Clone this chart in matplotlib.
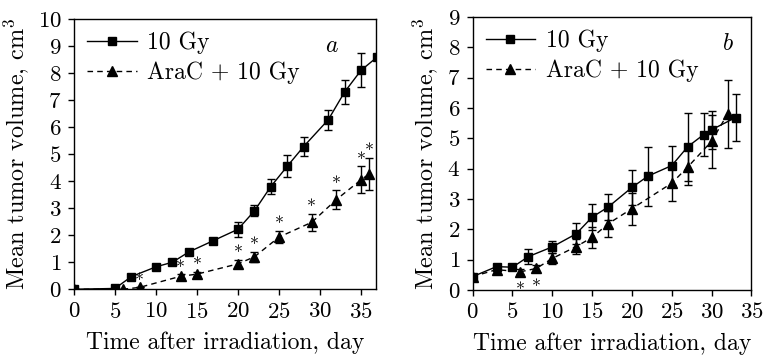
import matplotlib
matplotlib.use("Agg")
import matplotlib.pyplot as plt
from matplotlib.lines import Line2D

plt.rcParams['font.family'] = 'serif'
plt.rcParams['font.serif'] = ['cmr10', 'DejaVu Serif']
plt.rcParams['mathtext.fontset'] = 'cm'
plt.rcParams['axes.formatter.use_mathtext'] = True
plt.rcParams['font.size'] = 16

# Panel a
days_a_10 = [0, 5, 7, 10, 12, 14, 17, 20, 22, 24, 26, 28, 31, 33, 35, 37]
vol_a_10 = [0, 0.03, 0.47, 0.83, 1.0, 1.38, 1.8, 2.22, 2.9, 3.8, 4.55, 5.28, 6.27, 7.3, 8.1, 8.6]
err_a_10 = [0, 0, 0, 0, 0, 0, 0, 0.28, 0.2, 0.27, 0.4, 0.35, 0.37, 0.45, 0.63, 0]
days_a_ara = [0, 6, 8, 13, 15, 20, 22, 25, 29, 32, 35, 36]
vol_a_ara = [0, 0, 0.07, 0.48, 0.56, 0.94, 1.2, 1.93, 2.48, 3.32, 4.05, 4.27]
err_a_ara = [0, 0, 0, 0.07, 0.08, 0.15, 0.18, 0.23, 0.32, 0.34, 0.5, 0.58]
sig_a = [8, 13, 15, 20, 22, 25, 29, 32, 35, 36]

# Panel b
days_b_10 = [0, 3, 5, 7, 10, 13, 15, 17, 20, 22, 25, 27, 29, 30, 33]
vol_b_10 = [0.44, 0.77, 0.75, 1.1, 1.42, 1.85, 2.4, 2.73, 3.38, 3.75, 4.1, 4.72, 5.12, 5.28, 5.68]
err_b_10 = [0, 0.05, 0, 0.25, 0.19, 0.35, 0.42, 0.42, 0.58, 0.97, 0.65, 1.12, 0.71, 0.63, 0.78]
days_b_ara = [0, 3, 6, 8, 10, 13, 15, 17, 20, 25, 27, 30, 32]
vol_b_ara = [0.44, 0.67, 0.6, 0.71, 1.04, 1.43, 1.73, 2.18, 2.68, 3.52, 4.05, 4.9, 5.8]
err_b_ara = [0, 0.05, 0.08, 0.12, 0.18, 0.25, 0.35, 0.42, 0.53, 0.6, 0.6, 0.87, 1.12]
sig_b = [6, 8]

labels = ["10 Gy", "AraC + 10 Gy"]
xticks = [0, 5, 10, 15, 20, 25, 30, 35]

fig = plt.figure(figsize=(7.66, 3.58), dpi=100)
axa = fig.add_axes([0.0966, 0.192, 0.394, 0.755])
axb = fig.add_axes([0.617, 0.190, 0.364, 0.763])

DASH = (0, (4, 3))


def draw(ax, d10, v10, e10, dar, var, ear, sig, below, xmax, ylim, yticks, letter, lpos):
    ax.errorbar(dar, var, yerr=ear, color='black', lw=1.0, ls=DASH,
                marker='^', ms=6.5, capsize=3, elinewidth=1.0, capthick=1.0)
    ax.errorbar(d10, v10, yerr=e10, color='black', lw=1.0, ls='-',
                marker='s', ms=5.5, capsize=3, elinewidth=1.0, capthick=1.0)
    for s in sig:
        i = dar.index(s)
        if below:
            ax.annotate('*', (s, var[i]), xytext=(0, -8), textcoords='offset points',
                        ha='center', va='top', fontsize=13)
        else:
            ax.annotate('*', (s, var[i] + ear[i]), xytext=(0, -1), textcoords='offset points',
                        ha='center', va='bottom', fontsize=13)
    ax.set_xlim(0, xmax)
    ax.set_ylim(*ylim)
    ax.set_xticks(xticks)
    ax.set_yticks(yticks)
    ax.tick_params(direction='out', length=4, width=1, labelsize=16.5, pad=5)
    ax.set_xlabel("Time after irradiation, day", fontsize=17, labelpad=7)
    ax.set_ylabel("Mean tumor volume, cm$^3$", fontsize=17.5, labelpad=5)
    handles = [Line2D([], [], color='black', lw=1.0, ls='-', marker='s', ms=5.5),
               Line2D([], [], color='black', lw=1.0, ls=DASH, marker='^', ms=6.5)]
    ax.legend(handles, labels, loc='upper left', frameon=False, fontsize=17,
              handlelength=2.1, handletextpad=0.45, borderaxespad=0.3,
              borderpad=0.25, labelspacing=0.3)
    ax.text(lpos[0], lpos[1], '$' + letter + '$', transform=ax.transAxes,
            ha='center', va='center', fontsize=17)
    for sp in ax.spines.values():
        sp.set_linewidth(1.0)


draw(axa, days_a_10, vol_a_10, err_a_10, days_a_ara, vol_a_ara, err_a_ara, sig_a, False,
     36.8, (0, 10), list(range(0, 11)), 'a', (0.853, 0.90))
draw(axb, days_b_10, vol_b_10, err_b_10, days_b_ara, vol_b_ara, err_b_ara, sig_b, True,
     35, (0, 9), list(range(0, 10)), 'b', (0.915, 0.90))

fig.savefig("out.png", dpi=100)
